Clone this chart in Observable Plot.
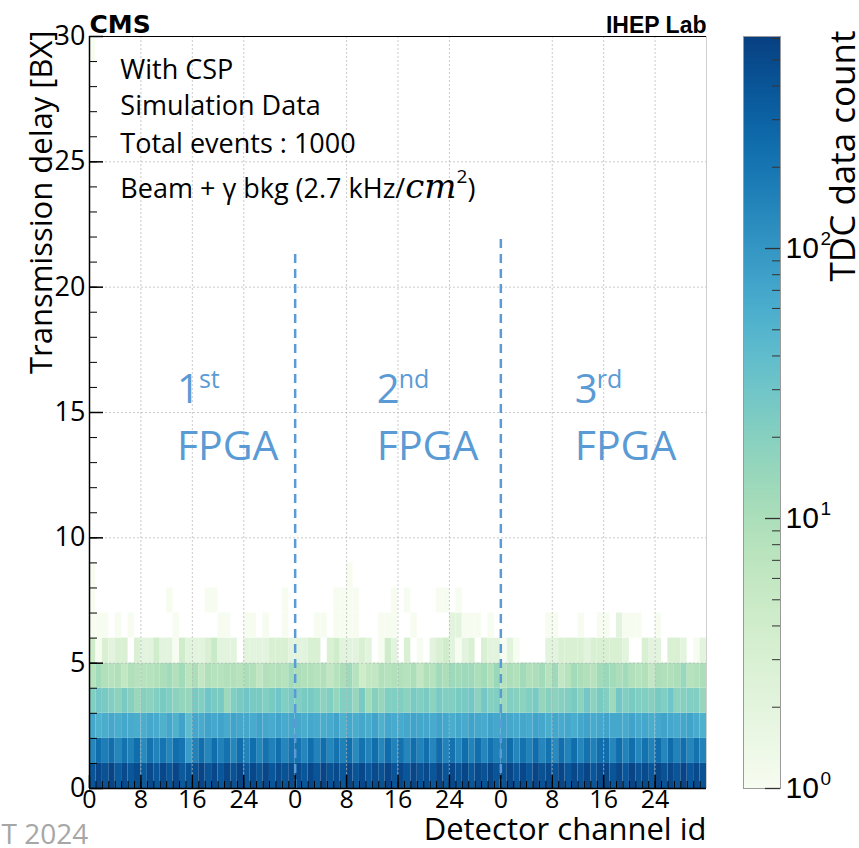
<!DOCTYPE html>
<html><head><meta charset="utf-8">
<script src="https://cdn.jsdelivr.net/npm/d3@7"></script>
<script src="https://cdn.jsdelivr.net/npm/@observablehq/plot@0.6"></script>
<style>
body{margin:0;background:#fff;}
#wrap{position:relative;width:859px;height:848px;overflow:hidden;background:#fff;}
#wrap svg{position:absolute;top:0;}
</style></head><body><div id="wrap"></div>
<script>
// ---------- data ----------
const channelsPerFpga = 32;
const totalChannels = 96;
const delayMax = 30;
const xTickValues = [0, 8, 16, 24, 32, 40, 48, 56, 64, 72, 80, 88];
const yTickValues = [0, 5, 10, 15, 20, 25, 30];
const gridXValues = [8, 16, 24, 40, 48, 56, 72, 80, 88];
const gridYValues = [5, 10, 15, 20, 25];

// counts per delay bin, channel 0..95 (3 FPGAs x 32 channels)
const delay0 = [400,520,420,550,350,500,380,480,360,500,380,520,400,540,360,420,450,560,400,520,380,540,420,560,380,520,400,540,380,500,420,480,
                480,380,520,400,560,420,500,380,540,400,520,380,500,420,560,400,520,380,540,420,500,380,560,400,520,420,540,380,500,420,540,400,
                420,540,400,520,380,560,420,500,400,540,380,520,420,560,380,500,540,400,520,380,560,420,500,380,540,420,520,400,560,380,500,420];
const delay1 = [140,240,170,230,140,220,160,240,130,220,150,210,140,240,210,90,150,230,140,240,160,220,140,230,150,240,140,220,160,230,140,210,
                210,140,230,150,240,140,220,160,230,130,220,150,240,140,250,150,220,140,240,150,230,140,250,150,220,140,240,150,230,140,220,160,
                160,240,140,220,150,250,140,220,130,230,150,240,140,220,160,230,250,140,240,150,230,140,220,150,240,140,250,150,230,140,220,150];
const delay2 = [70,55,60,70,60,70,65,60,60,70,65,55,70,55,75,40,70,65,75,70,75,65,75,70,70,65,75,70,65,75,65,70,
                70,60,70,65,60,65,75,55,70,60,70,60,75,55,70,65,65,70,75,70,70,65,75,70,60,70,65,75,70,65,75,70,
                75,70,65,70,65,75,70,60,70,65,70,60,70,75,65,70,75,70,70,65,75,65,70,60,70,75,70,65,70,75,65,55];
const delay3 = [22,28,25,22,18,25,20,14,20,18,22,25,22,18,16,15,25,22,30,25,25,13,22,25,30,25,25,22,25,30,22,25,
                22,25,25,22,18,22,16,22,22,15,25,12,20,15,22,22,22,18,25,22,25,18,25,22,22,25,25,28,18,28,20,22,
                14,22,20,18,22,25,15,20,18,20,22,25,18,28,18,25,22,13,28,22,25,22,22,20,25,22,30,18,20,22,22,15];
const delay4 = [8,12,9,8,9,6,9,8,8,8,9,10,12,9,12,7,10,6,9,8,8,9,9,8,10,9,6,9,8,9,8,12,
                10,9,9,8,9,6,8,10,13,8,4,6,6,9,8,9,9,8,10,6,9,8,12,10,13,12,13,13,10,12,9,14,
                8,10,9,12,9,10,12,8,13,6,8,12,10,9,8,12,14,12,10,12,9,8,9,6,10,9,9,10,14,8,9,10];
const delay5 = [4,1,3,2,3,3,0,3,2,2,4,2,2,1,4,2,2,2,3,5,2,2,2,0,2,2,2,2,3,3,3,2,
                2,2,3,3,0,3,4,2,2,2,3,2,0,1,4,2,0,3,0,1,0,2,3,4,2,1,2,3,0,3,2,2,
                1,2,1,0,0,0,0,2,2,3,3,3,3,2,3,3,3,3,3,2,0,0,3,2,2,0,3,3,2,0,1,2];
const delay6 = [1,1,1,0,1,0,1,0,0,0,0,0,0,1,0,0,0,0,0,0,1,1,0,0,1,1,0,1,0,0,1,0,
                0,0,0,1,1,0,1,1,1,1,0,0,0,1,1,1,0,0,1,0,0,0,0,0,2,2,1,1,1,0,1,0,
                0,0,0,0,0,0,0,1,1,0,0,0,1,0,0,1,1,0,2,1,1,1,0,0,1,0,0,0,0,0,0,0];
const delay7 = [1,0,0,0,0,0,0,0,0,0,0,0,1,0,0,0,0,0,1,1,0,0,0,0,0,0,0,0,0,0,1,0,
                0,0,0,0,0,0,1,1,1,1,0,0,0,0,0,1,0,1,0,0,0,0,1,1,0,1,0,0,0,0,0,0,
                0,0,0,0,0,0,0,0,0,0,0,0,0,0,0,0,0,0,0,0,0,0,0,0,0,0,0,0,0,0,0,0];
const delay8 = [1,0,0,0,0,0,0,0,0,0,0,0,0,0,0,0,0,0,0,0,0,0,0,0,0,0,0,0,0,0,0,0,
                0,0,0,0,0,0,0,0,1,0,0,0,0,0,0,0,0,0,0,0,0,0,0,0,0,0,0,0,0,0,0,0,
                0,0,0,0,0,0,0,0,0,0,0,0,0,0,0,0,0,0,0,0,0,0,0,0,0,0,0,0,0,0,0,0];
const extraChannels = [0];
const extraDelays = [29];
const extraCounts = [1];

const fpgaDividers = [32, 64];
const fpgaDividerTops = [21.4, 21.9];
const fpgaNumbers = ["1", "2", "3"];
const fpgaSuffixes = ["st", "nd", "rd"];
const fpgaLabelX = [13.6, 44.7, 75.5];
const fpgaNumberY = 15.36;
const fpgaSuffixY = 15.96;
const fpgaWordY = 13.1;
const infoLines = ["With CSP", "Simulation Data", "Total events : 1000", "Beam + γ bkg (2.7 kHz/cm2)"];
const infoX = 4.8;
const infoY = [28.32, 26.88, 25.37, 23.57];
const colorMax = 610;
const cbMajor = [1, 10, 100];
const cbMajorExp = ["0", "1", "2"];
const cbMinor = [2,3,4,5,6,7,8,9,20,30,40,50,60,70,80,90,200,300,400,500,600];

// ---------- build table ----------
const rows = [delay0, delay1, delay2, delay3, delay4, delay5, delay6, delay7, delay8];
const cells = [];
rows.forEach((row, r) => row.forEach((v, ch) => { if (v > 0) cells.push({ch, delay: r, count: v}); }));
extraChannels.forEach((ch, i) => cells.push({ch, delay: extraDelays[i], count: extraCounts[i]}));

// ---------- layout ----------
const W = 859, H = 848;
const mL = 89, mR = 153, mT = 36, mB = 60;
const frameW = W - mL - mR, frameH = H - mT - mB;
const colorOpts = {type: "log", scheme: "GnBu", domain: [1, colorMax]};
const sans = "'Open Sans', sans-serif";
const blue = "#5b9bd5";
const gridStyle = {stroke: "#b4b4b4", strokeOpacity: 0.7, strokeDasharray: "2,2", strokeWidth: 1};

const main = Plot.plot({
  width: W, height: H, marginLeft: mL, marginRight: mR, marginTop: mT, marginBottom: mB,
  style: {fontFamily: sans, background: "transparent", overflow: "visible", color: "#000"},
  x: {domain: [0, totalChannels]},
  y: {domain: [0, delayMax]},
  color: colorOpts,
  marks: [
    Plot.rect(cells, {x1: "ch", x2: d => d.ch + 1, y1: "delay", y2: d => d.delay + 1, fill: "count"}),
    Plot.gridX(gridXValues, gridStyle),
    Plot.gridY(gridYValues, gridStyle),
    Plot.ruleX(fpgaDividers, {x: d => d, y1: 0, y2: (d, i) => fpgaDividerTops[i], stroke: blue, strokeWidth: 2.5, strokeDasharray: "9,6"}),
    Plot.tickX(d3.range(0, totalChannels + 1), {x: d => d, insetTop: frameH - 7, stroke: "#000"}),
    Plot.tickX(xTickValues, {x: d => d, insetTop: frameH - 13, stroke: "#000", strokeWidth: 1.5}),
    Plot.tickY(d3.range(0, delayMax + 1), {y: d => d, insetRight: frameW - 8, stroke: "#000"}),
    Plot.tickY(yTickValues, {y: d => d, insetRight: frameW - 14, stroke: "#000", strokeWidth: 1.5}),
    Plot.ruleX([totalChannels], {stroke: "#cfcfcf"}),
    Plot.ruleX([0], {stroke: "#000", strokeWidth: 1.5}),
    Plot.ruleY([0], {stroke: "#000", strokeWidth: 1.5}),
    Plot.ruleY([delayMax], {stroke: "#000", strokeWidth: 1}),
    Plot.axisX(xTickValues, {tickSize: 0, tickPadding: 2, tickFormat: d => d % channelsPerFpga, fontSize: 25, label: null}),
    Plot.axisY(yTickValues, {tickSize: 0, tickPadding: 4, fontSize: 27, label: null}),
    // inset texts
    Plot.text(infoLines, {x: infoX, y: (d, i) => infoY[i], text: d => d, textAnchor: "start", lineAnchor: "bottom", fontSize: 27, fontFamily: sans}),
    Plot.text(fpgaNumbers, {x: (d, i) => fpgaLabelX[i], y: fpgaNumberY, text: d => d, textAnchor: "start", lineAnchor: "bottom", fontSize: 40, fill: blue}),
    Plot.text(fpgaSuffixes, {x: (d, i) => fpgaLabelX[i], y: fpgaSuffixY, dx: 22, text: d => d, textAnchor: "start", lineAnchor: "bottom", fontSize: 25, fill: blue}),
    Plot.text(fpgaNumbers, {x: (d, i) => fpgaLabelX[i], y: fpgaWordY, text: () => "FPGA", textAnchor: "start", lineAnchor: "bottom", fontSize: 41, fill: blue}),
    // headers and labels
    Plot.text(["CMS"], {text: d => d, frameAnchor: "top-left", textAnchor: "start", lineAnchor: "bottom", dy: -4, fontSize: 25, fontWeight: "bold", fontFamily: "DejaVu Sans"}),
    Plot.text(["IHEP Lab"], {text: d => d, frameAnchor: "top-right", textAnchor: "end", lineAnchor: "bottom", dy: -4, fontSize: 23, fontWeight: "bold", fontFamily: "'Liberation Sans', Arial, sans-serif"}),
    Plot.text(["Transmission delay [BX]"], {text: d => d, frameAnchor: "top-left", rotate: -90, textAnchor: "end", lineAnchor: "bottom", dx: -38, dy: -6, fontSize: 31}),
    Plot.text(["Detector channel id"], {text: d => d, frameAnchor: "bottom-right", textAnchor: "end", lineAnchor: "bottom", dy: 51, fontSize: 31}),
    Plot.text(["T 2024"], {text: d => d, frameAnchor: "bottom-left", textAnchor: "start", lineAnchor: "bottom", dx: -88, dy: 55, fontSize: 28, fill: "#a6a6a6"})
  ]
});

// superscript / italic for the background-rate line
d3.select(main).selectAll("text").filter(function () { return this.textContent === infoLines[3]; }).each(function () {
  const t = d3.select(this);
  t.text(null);
  t.append("tspan").text("Beam + γ bkg (2.7 kHz/");
  t.append("tspan").attr("font-style", "italic").attr("font-family", "'DejaVu Serif', serif").attr("font-size", 34).text("cm");
  t.append("tspan").attr("font-size", 19).attr("dy", -15).text("2");
  t.append("tspan").attr("dy", 15).text(")");
});

// ---------- colour bar ----------
const cbW = 159, cbML = 43, cbMR = 79;
const cbFrameW = cbW - cbML - cbMR;
const logMax = Math.log10(colorMax);
const cb = Plot.plot({
  width: cbW, height: H, marginLeft: cbML, marginRight: cbMR, marginTop: mT, marginBottom: mB,
  style: {background: "transparent", overflow: "visible", fontFamily: "'Liberation Sans', Arial, sans-serif"},
  x: {domain: [0, 1], axis: null},
  y: {domain: [0, logMax], axis: null},
  color: colorOpts,
  marks: [
    Plot.raster({x1: 0, x2: 1, y1: 0, y2: logMax, fill: (x, y) => Math.pow(10, y), imageRendering: "auto"}),
    Plot.frame({stroke: "#9a9a9a"}),
    Plot.tickY(cbMinor, {y: d => Math.log10(d), insetLeft: cbFrameW - 8, stroke: "#333"}),
    Plot.tickY(cbMajor, {y: d => Math.log10(d), insetLeft: cbFrameW - 15, stroke: "#333", strokeWidth: 1.3}),
    Plot.text(cbMajor, {y: d => Math.log10(d), frameAnchor: "right", text: () => "10", textAnchor: "start", dx: 5, fontSize: 30}),
    Plot.text(cbMajor, {y: d => Math.log10(d), frameAnchor: "right", text: (d, i) => cbMajorExp[i], textAnchor: "start", dx: 40, dy: -10, fontSize: 19}),
    Plot.text(["TDC data count"], {text: d => d, frameAnchor: "top-right", rotate: -90, textAnchor: "end", lineAnchor: "bottom", dx: 74, dy: -6, fontSize: 35, fontFamily: sans})
  ]
});

const wrap = document.getElementById("wrap");
main.style.left = "0px";
cb.style.left = "700px";
wrap.appendChild(main);
wrap.appendChild(cb);
</script></body></html>
